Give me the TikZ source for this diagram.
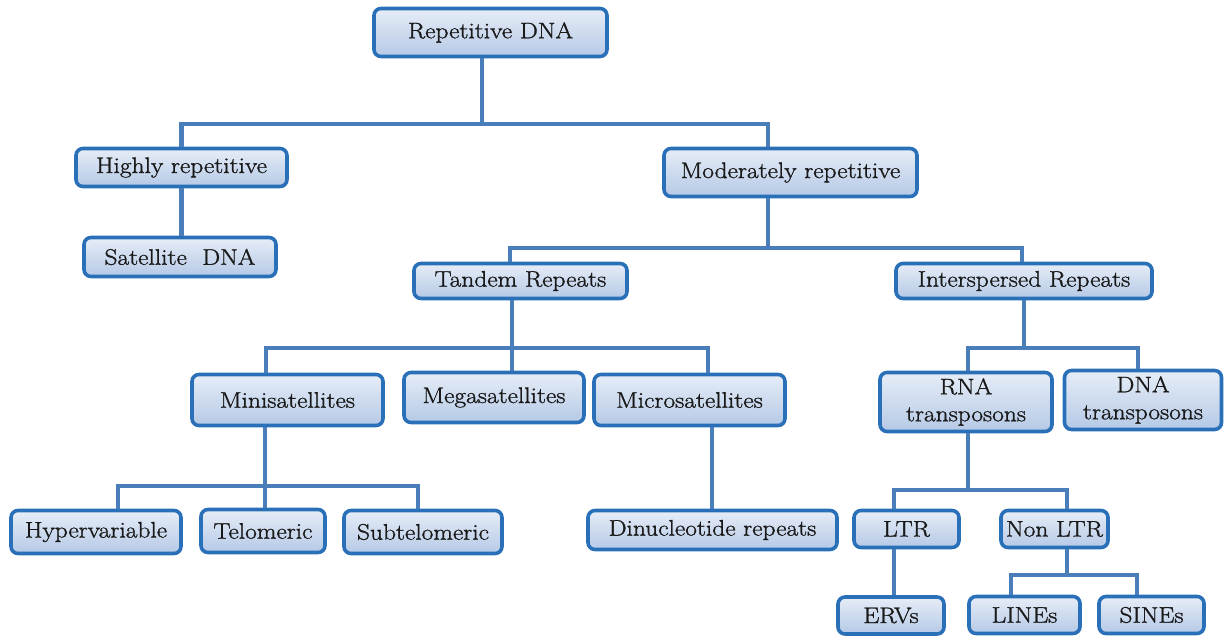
\documentclass[tikz,border=0pt]{standalone}
\usepackage{fontspec}
\usepackage{tikz}
\newfontfamily\boxfont{Latin Modern Roman}[FakeBold=1.2,FakeStretch=1.13]
\definecolor{linkc}{HTML}{4A7EBB}
\definecolor{boxline}{HTML}{2A70B8}
\definecolor{boxtop}{HTML}{E6EDF7}
\definecolor{boxbot}{HTML}{B5C9E6}
\begin{document}
\begin{tikzpicture}[x=1pt,y=-1pt,
  box/.style={draw=boxline, line width=3.6pt, rounded corners=7pt,
    top color=boxtop, bottom color=boxbot, inner sep=0pt,
    align=center, text=black!90,
    font=\boxfont\fontsize{22.5}{27}\selectfont},
  link/.style={draw=linkc, line width=4.5pt}]
\useasboundingbox (0,0) rectangle (1225,636);
% nodes
\node[box, minimum width=233pt, minimum height=48pt] (rep) at (490.5,32.5) {Repetitive DNA};
\node[box, minimum width=211pt, minimum height=38pt] (high) at (181.5,167.5) {Highly repetitive};
\node[box, minimum width=253pt, minimum height=48pt] (mod) at (790.5,172.5) {Moderately repetitive};
\node[box, minimum width=192pt, minimum height=39pt] (sat) at (180,257) {Satellite\ \ DNA};
\node[box, minimum width=213pt, minimum height=35pt] (tan) at (520.5,281) {Tandem Repeats};
\node[box, minimum width=256pt, minimum height=35pt] (inter) at (1024,281) {Interspersed Repeats};
\node[box, minimum width=191pt, minimum height=51pt] (mini) at (287.5,400) {Minisatellites};
\node[box, minimum width=180pt, minimum height=50pt] (mega) at (494,397.5) {Megasatellites};
\node[box, minimum width=191pt, minimum height=51pt] (micro) at (689.5,400) {Microsatellites};
\node[box, minimum width=172pt, minimum height=59pt] (rna) at (966,402) {RNA\\transposons};
\node[box, minimum width=157pt, minimum height=59pt] (dna) at (1143,400) {DNA\\transposons};
\node[box, minimum width=170pt, minimum height=43pt] (hyper) at (96,532) {Hypervariable};
\node[box, minimum width=124pt, minimum height=43pt] (telo) at (263,531) {Telomeric};
\node[box, minimum width=158pt, minimum height=43pt] (subt) at (423,532) {Subtelomeric};
\node[box, minimum width=249pt, minimum height=39pt] (dinu) at (712.5,530) {Dinucleotide repeats};
\node[box, minimum width=105pt, minimum height=37pt] (ltr) at (906.5,529) {LTR};
\node[box, minimum width=107pt, minimum height=37pt] (nonltr) at (1054.5,529) {Non LTR};
\node[box, minimum width=106pt, minimum height=37pt] (erv) at (891,615.5) {ERVs};
\node[box, minimum width=111pt, minimum height=37pt] (lines) at (1024.5,615) {LINEs};
\node[box, minimum width=105pt, minimum height=37pt] (sines) at (1151.5,615) {SINEs};
% connectors
\coordinate (j1) at (482,124);
\coordinate (j2) at (768,248);
\coordinate (j3) at (512,348);
\coordinate (j4) at (1024,348);
\coordinate (j5) at (265,486);
\coordinate (j6) at (968,490);
\coordinate (j7) at (1067,575);
\draw[link] (rep.south -| j1) -- (j1);
\draw[link] (high.north) |- (j1) -| (mod.north -| j2);
\draw[link] (high.south) -- (sat.north -| high.south);
\draw[link] (mod.south -| j2) -- (j2);
\draw[link] (tan.north -| 510,0) |- (j2) -| (inter.north -| 1022,0);
\draw[link] (tan.south -| j3) -- (j3);
\draw[link] (mini.north -| 266,0) |- (j3) -| (micro.north -| 708,0);
\draw[link] (j3) -- (mega.north -| j3);
\draw[link] (inter.south -| j4) -- (j4);
\draw[link] (rna.north -| j6) |- (j4) -| (dna.north -| 1138,0);
\draw[link] (mini.south -| j5) -- (j5);
\draw[link] (hyper.north -| 118,0) |- (j5) -| (subt.north -| 418,0);
\draw[link] (j5) -- (telo.north -| j5);
\draw[link] (micro.south -| 712,0) -- (dinu.north -| 712,0);
\draw[link] (rna.south -| j6) -- (j6);
\draw[link] (ltr.north -| 894,0) |- (j6) -| (nonltr.north -| j7);
\draw[link] (ltr.south -| 894,0) -- (erv.north -| 894,0);
\draw[link] (nonltr.south -| j7) -- (j7);
\draw[link] (lines.north -| 1011,0) |- (j7) -| (sines.north -| 1137,0);
\end{tikzpicture}
\end{document}
